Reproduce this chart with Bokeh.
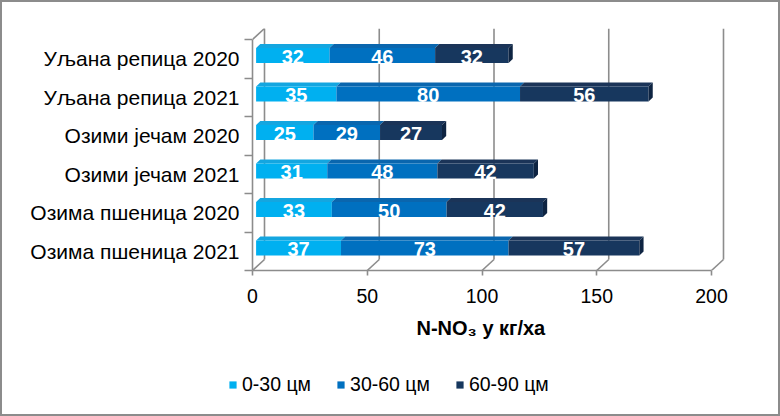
from bokeh.plotting import figure
from bokeh.layouts import column
from bokeh.models import Range1d, FixedTicker, Legend, LegendItem, Title
from bokeh.core.properties import value
from bokeh.embed import file_html
from bokeh.resources import INLINE

# ---------------- data ----------------
categories = ["Уљана репица 2020", "Уљана репица 2021", "Озими јечам 2020",
              "Озими јечам 2021", "Озима пшеница 2020", "Озима пшеница 2021"]
series_names = ["0-30 цм", "30-60 цм", "60-90 цм"]
v_0_30 = [32, 35, 25, 31, 33, 37]
v_30_60 = [46, 80, 29, 48, 50, 73]
v_60_90 = [32, 56, 27, 42, 42, 57]
x_ticks = [0, 50, 100, 150, 200]
axis_title = "N-NO₃ у кг/ха"

# ---------------- style ----------------
front_colors = ["#00B0F0", "#0070C0", "#17375E"]
top_colors = ["#14A6E0", "#0A66AE", "#1B3458"]
side_colors = ["#0088BC", "#00538F", "#0E2442"]
grid_color = "#8C8C8C"
FONT = "Liberation Sans"

W, H1, H2 = 776, 354, 58
MB_L, MB_R, MB_T, MB_B = 250, 48, 26, 86
frame_w = W - MB_L - MB_R
frame_h = H1 - MB_T - MB_B
x_max = x_ticks[-1]
px_x = 459.0 / x_max             # pixels per value unit
depth_px_x, depth_px_y = 12.0, 11.0
n = len(categories)
cat_px = (frame_h - depth_px_y) / n
DX = depth_px_x / px_x
DY = depth_px_y / cat_px
x_end = frame_w / px_x
y_end = n + DY

p = figure(width=W, height=H1, x_range=Range1d(0, x_end), y_range=Range1d(0, y_end),
           output_backend="svg", toolbar_location=None,
           min_border_left=MB_L, min_border_right=MB_R,
           min_border_top=MB_T, min_border_bottom=MB_B)
p.xgrid.grid_line_color = None
p.ygrid.grid_line_color = None
p.outline_line_color = None
p.background_fill_color = "white"
p.border_fill_color = "white"

# ---- walls / floor ----
p.segment(x0=[t + DX for t in x_ticks], y0=[DY] * len(x_ticks),
          x1=[t + DX for t in x_ticks], y1=[y_end] * len(x_ticks),
          line_color=grid_color, line_width=1.6)
p.segment(x0=x_ticks, y0=[0] * len(x_ticks),
          x1=[t + DX for t in x_ticks], y1=[DY] * len(x_ticks),
          line_color=grid_color, line_width=1.6)
p.segment(x0=[0], y0=[n], x1=[DX], y1=[n + DY], line_color=grid_color, line_width=1.6)

# ---- bars ----
d1, d2 = 0.30, 0.65
bar_h = 0.39
ys = [n - i - 0.5 for i in range(n)]
series = [v_0_30, v_30_60, v_60_90]
cum = [0] * n
for s, vals in enumerate(series):
    lefts = cum[:]
    rights = [a + b for a, b in zip(cum, vals)]
    yc = [y + d1 * DY for y in ys]
    xs_top, ys_top = [], []
    for L, R, y in zip(lefts, rights, yc):
        top = y + bar_h / 2
        xs_top.append([L + d1 * DX, R + d1 * DX, R + d2 * DX, L + d2 * DX])
        ys_top.append([top, top, top + (d2 - d1) * DY, top + (d2 - d1) * DY])
    p.patches(xs_top, ys_top, fill_color=top_colors[s], line_color=None)
    p.hbar(y=yc, left=[L + d1 * DX for L in lefts], right=[R + d1 * DX for R in rights],
           height=bar_h, fill_color=front_colors[s], line_color=None)
    if s == len(series) - 1:
        xs_side, ys_side = [], []
        for R, y in zip(rights, yc):
            b0, t0 = y - bar_h / 2, y + bar_h / 2
            off = (d2 - d1) * DY
            xs_side.append([R + d1 * DX, R + d2 * DX, R + d2 * DX, R + d1 * DX])
            ys_side.append([b0, b0 + off, t0 + off, t0])
        p.patches(xs_side, ys_side, fill_color=side_colors[s], line_color=None)
    p.text(x=[(L + R) / 2 + d1 * DX for L, R in zip(lefts, rights)], y=[y - 0.03 for y in yc],
           text=[str(v) for v in vals], text_color="white", text_font=value(FONT),
           text_font_style="bold", text_font_size="20px",
           text_align="center", text_baseline="middle")
    cum = rights

# ---- axes ----
xa = p.xaxis[0]
xa.ticker = FixedTicker(ticks=x_ticks, minor_ticks=[])
xa.bounds = (0, x_max)
xa.axis_line_color = grid_color
xa.axis_line_width = 1.6
xa.major_tick_line_color = grid_color
xa.major_tick_line_width = 1.6
xa.major_tick_out = 5
xa.major_tick_in = 0
xa.minor_tick_line_color = None
xa.major_label_standoff = 13
xa.major_label_text_font = FONT
xa.major_label_text_font_size = "19.5px"
xa.major_label_text_color = "black"

ya = p.yaxis[0]
ya.ticker = FixedTicker(ticks=ys, minor_ticks=list(range(n + 1)))
ya.major_label_overrides = {y: c for y, c in zip(ys, categories)}
ya.bounds = (0, n)
ya.axis_line_color = grid_color
ya.axis_line_width = 1.6
ya.major_tick_line_color = None
ya.major_tick_out = 0
ya.major_tick_in = 0
ya.minor_tick_line_color = grid_color
ya.minor_tick_line_width = 1.6
ya.minor_tick_out = 8
ya.minor_tick_in = 0
ya.major_label_standoff = 5
ya.major_label_text_font = FONT
ya.major_label_text_font_size = "21px"
ya.major_label_text_color = "black"

title = Title(text=axis_title, align="left", offset=164, text_font=FONT,
              text_font_size="20px", text_font_style="bold", text_color="black",
              standoff=18)
p.add_layout(title, "below")

# ---- legend figure ----
p2 = figure(width=W, height=H2, x_range=Range1d(0, W), y_range=Range1d(0, H2),
            output_backend="svg", toolbar_location=None,
            min_border_left=0, min_border_right=0, min_border_top=0, min_border_bottom=0,
            x_axis_type=None, y_axis_type=None)
try:
    p2.frame_align = False
except Exception:
    pass
p2.xgrid.grid_line_color = None
p2.ygrid.grid_line_color = None
p2.outline_line_color = None
p2.background_fill_color = "white"
p2.border_fill_color = "white"
swatches = [p2.hbar(y=list(range(n)), left=0, right=vals, height=0.5,
                    fill_color=c, line_color=None, visible=False)
            for vals, c in zip(series, front_colors)]
legend = Legend(items=[LegendItem(label=nm, renderers=[r]) for nm, r in zip(series_names, swatches)],
                orientation="horizontal", location=(226, 18),
                glyph_width=9, glyph_height=9, label_standoff=5, spacing=25,
                padding=0, margin=0, border_line_color=None, background_fill_alpha=0,
                inactive_fill_alpha=0,
                label_text_font=FONT, label_text_font_size="19.5px", label_text_color="black")
p2.add_layout(legend)

layout = column(p, p2, spacing=0, styles={"border": "2px solid #8C8C8C"})
open("out.html", "w").write(file_html(layout, INLINE))
